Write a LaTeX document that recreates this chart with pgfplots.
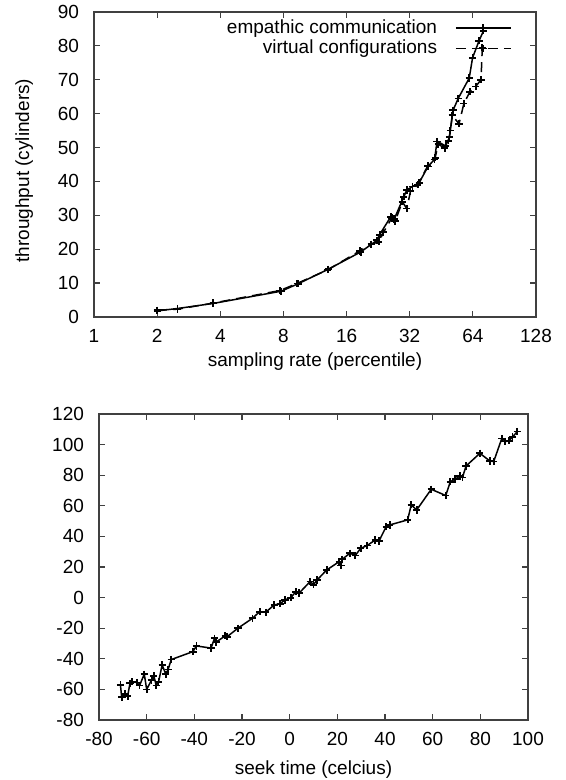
\documentclass[border=0pt]{standalone}
\usepackage{fontspec}
\setmainfont{Liberation Sans}
\usepackage{pgfplots}
\pgfplotsset{compat=1.18}

\pgfplotsset{
  gp/.style={
    scale only axis,
    anchor=north west,
    axis line style={draw=black!75, line width=0.7pt},
    tick style={draw=black!75, line width=0.6pt},
    major tick length=3pt,
    tick pos=both,
    tick align=inside,
    /pgf/number format/assume math mode=true,
    tick label style={font=\fontsize{9.5}{11}\selectfont},
    label style={font=\fontsize{9.5}{11}\selectfont},
    yticklabel style={xshift=-4pt},
    xticklabel style={yshift=-2.5pt},
  },
  ln/.style={black, line width=0.75pt, mark=+, mark size=1.8pt, mark options={solid, line width=0.9pt}},
}

\begin{document}
\begin{tikzpicture}
\useasboundingbox (0,0) rectangle (283pt,-390pt);

% top: sampling rate vs throughput
\begin{axis}[gp,
  at={(47pt,-6pt)},
  width=221pt, height=152.5pt,
  xmode=log, log basis x=2,
  xmin=1, xmax=128,
  xtick={1,2,4,8,16,32,64,128},
  xticklabels={1,2,4,8,16,32,64,128},
  ymin=0, ymax=90,
  ytick={0,10,...,90},
  xlabel={sampling rate (percentile)},
  ylabel={throughput (cylinders)},
  xlabel style={at={(axis description cs:0.5,-0.1475)}, anchor=center},
  ylabel style={at={(axis description cs:-0.158,0.48)}, anchor=center},
  legend plot pos=right,
  legend cell align=right,
  legend image code/.code={\draw[mark repeat=2,mark phase=2,#1] plot coordinates {(0pt,0pt) (13.75pt,0pt) (27.5pt,0pt)};},
  legend style={draw=none, fill=none, at={(1,1)}, anchor=north east,
    xshift=-12pt, yshift=-1.5pt, inner sep=0pt, column sep=7pt, row sep=-2pt,
    font=\fontsize{9.5}{11}\selectfont},
]
\addplot+[ln] coordinates {
  (2.0,1.8) (2.5,2.5) (3.7,4.0) (7.8,7.6) (9.4,9.8) (13.1,14.1)
  (18.7,19.2) (22.3,22.6) (23.0,24.3) (26.0,29.6) (27.0,28.9)
  (30.0,35.5) (31.0,37.5) (33.0,38.5) (35.5,39.6) (39.1,44.4)
  (42.0,46.5) (43.2,51.8) (47.5,50.5) (49.5,53.0) (51.5,61.0)
  (54.5,64.5) (61.5,70.5) (63.8,76.5) (68.5,81.5) (72.0,84.5)
};
\addlegendentry{empathic communication}
\addplot+[ln, dash pattern=on 5pt off 3pt] coordinates {
  (2.0,2.0) (2.5,2.3) (3.7,4.1) (7.7,7.8) (9.3,9.9) (13.0,13.9)
  (18.5,19.5) (21.0,21.5) (22.8,22.2) (24.0,25.0) (26.3,29.2)
  (27.3,28.3) (29.5,34.0) (31.0,32.0) (32.3,37.2) (35.0,39.0)
  (39.0,44.6) (42.3,47.0) (43.8,51.0) (47.0,49.8) (49.0,52.0)
  (50.0,55.0) (51.0,59.5) (55.0,57.0) (58.0,63.0) (62.0,66.5)
  (66.0,68.0) (70.0,70.0) (71.0,79.5)
};
\addlegendentry{virtual configurations}
\end{axis}

% bottom: seek time
\begin{axis}[gp,
  at={(49.5pt,-207pt)},
  width=214.5pt, height=153pt,
  xmin=-80, xmax=100,
  xtick={-80,-60,...,100},
  ymin=-80, ymax=120,
  ytick={-80,-60,...,120},
  xlabel={seek time (celcius)},
  xlabel style={at={(axis description cs:0.5,-0.163)}, anchor=center},
]
\addplot+[ln] coordinates {
  (-71.0,-57.0) (-70.5,-65.0) (-69.0,-63.0) (-68.0,-64.5) (-67.0,-56.0)
  (-66.0,-55.0) (-64.0,-55.5) (-63.0,-57.5) (-61.0,-50.0) (-60.0,-60.0)
  (-58.0,-54.0) (-57.0,-51.0) (-56.0,-57.5) (-55.0,-55.0) (-53.5,-44.0)
  (-52.0,-50.0) (-51.0,-47.0) (-49.7,-40.5) (-40.6,-35.3) (-39.1,-31.6)
  (-33.0,-33.0) (-31.5,-26.5) (-30.8,-29.0) (-27.0,-25.0) (-26.2,-25.5)
  (-21.7,-20.0) (-15.6,-13.5) (-12.6,-9.2) (-10.0,-9.5) (-6.5,-4.8)
  (-4.0,-4.0) (-2.0,-1.5) (0.5,0.0) (2.6,3.9) (4.0,3.0) (8.6,10.5)
  (10.0,8.5) (11.5,11.5) (15.5,18.0) (20.8,23.5) (21.5,21.0) (22.0,25.0)
  (25.3,29.0) (27.5,27.5) (29.8,32.2) (32.5,34.0) (35.9,37.7) (37.5,37.0)
  (40.5,46.4) (42.0,47.5) (49.5,50.8) (51.0,60.6) (53.3,57.3) (59.4,70.8)
  (65.5,66.7) (67.4,75.8) (69.5,77.5) (71.5,79.5) (72.5,78.5) (74.0,86.0)
  (79.8,94.3) (84.0,89.3) (85.6,88.9) (89.0,104.0) (90.5,102.0)
  (92.0,102.6) (93.5,105.0) (95.5,108.5)
};
\end{axis}
\end{tikzpicture}
\end{document}
